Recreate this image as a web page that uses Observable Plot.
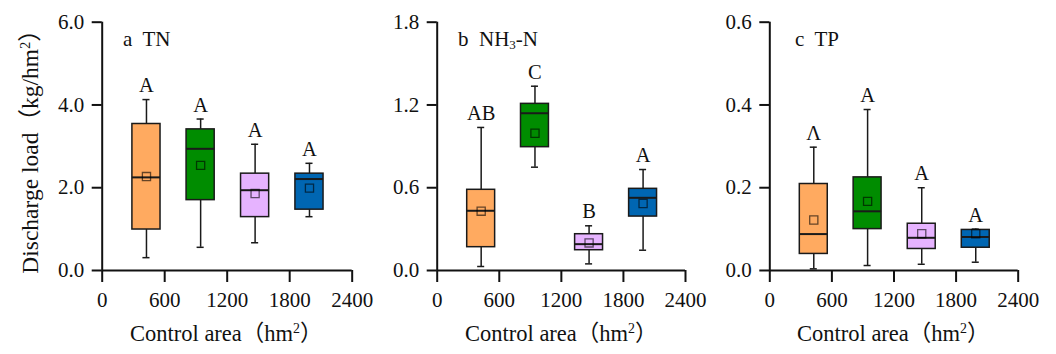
<!DOCTYPE html>
<html><head><meta charset="utf-8">
<script src="https://cdn.jsdelivr.net/npm/d3@7"></script>
<script src="https://cdn.jsdelivr.net/npm/@observablehq/plot@0.6"></script>
<style>
body{margin:0;background:#fff;}
#wrap{position:relative;width:1056px;height:354px;font-family:"Liberation Serif","Times New Roman","Noto Sans CJK SC",serif;color:#111;overflow:hidden;}
.panel{position:absolute;top:0;}
.lbl{position:absolute;white-space:pre;font-size:22.5px;line-height:22px;}
.ttl{position:absolute;white-space:pre;font-size:21px;line-height:21px;}
sup{font-size:0.62em;line-height:0;position:relative;top:-0.55em;vertical-align:baseline;}
sub{font-size:0.62em;line-height:0;position:relative;top:0.3em;vertical-align:baseline;}
#ylab{position:absolute;width:320px;left:-130px;top:135px;text-align:center;transform:rotate(-90deg);transform-origin:50% 50%;font-size:23.5px;}
</style></head><body>
<div id="wrap"></div>
<script>
// groups and colours
const groups = ["G1", "G2", "G3", "G4"];
const colors = ["#FFAA60", "#008C00", "#E6B3FF", "#0066B2"];
const xCenter = [425, 945, 1468, 1990];
const xTicks = [0, 600, 1200, 1800, 2400];

// a  TN
const tnLow = [0.31, 0.56, 0.67, 1.30];
const tnQ1 = [0.99, 1.70, 1.29, 1.47];
const tnMed = [2.25, 2.94, 1.94, 2.21];
const tnMean = [2.27, 2.54, 1.86, 1.99];
const tnQ3 = [3.54, 3.41, 2.34, 2.34];
const tnHigh = [4.13, 3.66, 3.05, 2.59];
const tnLetters = ["A", "A", "A", "A"];
const tnTicks = [0, 2, 4, 6];

// b  NH3-N
const nhLow = [0.029, 0.749, 0.048, 0.147];
const nhQ1 = [0.169, 0.894, 0.147, 0.391];
const nhMed = [0.433, 1.14, 0.191, 0.527];
const nhMean = [0.43, 0.995, 0.20, 0.486];
const nhQ3 = [0.585, 1.208, 0.263, 0.592];
const nhHigh = [1.037, 1.336, 0.324, 0.732];
const nhLetters = ["AB", "C", "B", "A"];
const nhTicks = [0, 0.6, 1.2, 1.8];

// c  TP
const tpLow = [0.004, 0.012, 0.015, 0.020];
const tpQ1 = [0.040, 0.100, 0.052, 0.055];
const tpMed = [0.088, 0.143, 0.079, 0.081];
const tpMean = [0.122, 0.167, 0.089, 0.089];
const tpQ3 = [0.209, 0.225, 0.113, 0.098];
const tpHigh = [0.298, 0.389, 0.200, 0.100];
const tpLetters = ["Λ", "A", "A", "A"];
const tpTicks = [0, 0.2, 0.4, 0.6];

const FONT = '"Liberation Serif","Times New Roman",serif';

function panel(o) {
  const rows = groups.map((g, i) => ({
    g, i, x: xCenter[i], low: o.low[i], q1: o.q1[i], med: o.med[i],
    mean: o.mean[i], q3: o.q3[i], high: o.high[i], letter: o.letters[i], color: colors[i]
  }));
  const hw = 135, cw = 34;
  const stroke = "#1a1a1a";
  const p = Plot.plot({
    width: o.marginLeft + o.plotW + 32,
    height: 354,
    marginLeft: o.marginLeft, marginRight: 32, marginTop: 21.7, marginBottom: 84,
    x: {domain: [0, 2400]},
    y: {domain: [0, o.ticks[o.ticks.length - 1]]},
    color: {type: "identity"},
    style: {background: "transparent", overflow: "visible", fontFamily: FONT, color: "#111"},
    marks: [
      Plot.ruleX(rows, {x: "x", y1: "low", y2: "q1", stroke, strokeWidth: 1.5}),
      Plot.ruleX(rows, {x: "x", y1: "q3", y2: "high", stroke, strokeWidth: 1.5}),
      Plot.ruleY(rows, {y: "low", x1: d => d.x - cw, x2: d => d.x + cw, stroke, strokeWidth: 1.5}),
      Plot.ruleY(rows, {y: "high", x1: d => d.x - cw, x2: d => d.x + cw, stroke, strokeWidth: 1.5}),
      Plot.rect(rows, {x1: d => d.x - hw, x2: d => d.x + hw, y1: "q1", y2: "q3", fill: "color", stroke, strokeWidth: 1.5}),
      Plot.ruleY(rows, {y: "med", x1: d => d.x - hw, x2: d => d.x + hw, stroke, strokeWidth: 2}),
      Plot.dot(rows, {x: "x", y: "mean", symbol: "square", r: 4.6, fill: "none", stroke: "rgba(0,0,0,0.6)", strokeWidth: 1.3}),
      Plot.text(rows, {x: "x", y: "high", text: "letter", dy: -14, fontSize: 20.5, fill: "#111"}),
      Plot.ruleX([0], {stroke: "#111", strokeWidth: 2}),
      Plot.ruleY([0], {stroke: "#111", strokeWidth: 2}),
      Plot.axisY({ticks: o.ticks, tickFormat: d => d.toFixed(1), tickSize: 10, tickPadding: 8, fontSize: 21, strokeWidth: 2, label: null}),
      Plot.axisX({ticks: xTicks, tickFormat: d => String(d), tickSize: 12, tickPadding: 10, fontSize: 21, strokeWidth: 2, label: null})
    ]
  });
  p.classList.add("panel");
  p.style.left = o.left + "px";
  return p;
}

const wrap = document.getElementById("wrap");
wrap.appendChild(panel({left: 0, marginLeft: 101.7, plotW: 250, ticks: tnTicks,
  low: tnLow, q1: tnQ1, med: tnMed, mean: tnMean, q3: tnQ3, high: tnHigh, letters: tnLetters}));
wrap.appendChild(panel({left: 360, marginLeft: 76.7, plotW: 248.3, ticks: nhTicks,
  low: nhLow, q1: nhQ1, med: nhMed, mean: nhMean, q3: nhQ3, high: nhHigh, letters: nhLetters}));
wrap.appendChild(panel({left: 700, marginLeft: 69.3, plotW: 248.4, ticks: tpTicks,
  low: tpLow, q1: tpQ1, med: tpMed, mean: tpMean, q3: tpQ3, high: tpHigh, letters: tpLetters}));

function addHTML(cls, left, top, html, id) {
  const d = document.createElement("div");
  d.className = cls;
  if (id) d.id = id;
  if (left !== null) d.style.left = left + "px";
  if (top !== null) d.style.top = top + "px";
  d.innerHTML = html;
  wrap.appendChild(d);
}
const xTitle = 'Control area（hm<sup>2</sup>）';
addHTML("lbl", 130, 322.5, xTitle);
addHTML("lbl", 465, 322.5, xTitle);
addHTML("lbl", 797, 322.5, xTitle);
addHTML("ttl", 123, 28.5, "a  TN");
addHTML("ttl", 458, 28.5, "b  NH<sub>3</sub>-N");
addHTML("ttl", 795, 28.5, "c  TP");
addHTML("lbl", null, null, 'Discharge load（kg/hm<sup>2</sup>）', "ylab");
</script>
</body></html>
